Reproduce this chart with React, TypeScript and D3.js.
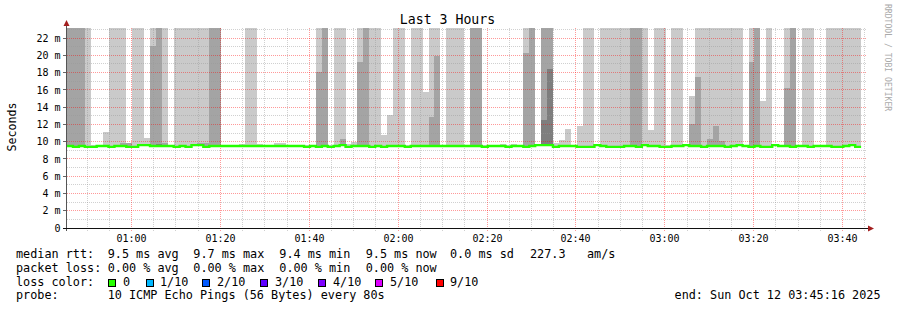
import React, { useEffect } from 'react';
import * as d3 from 'd3';

// ---------- data ----------
const TITLE = 'Last 3 Hours';
const Y_LABEL = 'Seconds';
const WATERMARK = 'RRDTOOL / TOBI OETIKER';
const START = new Date(2025, 9, 12, 0, 45, 16);
const END = new Date(2025, 9, 12, 3, 45, 16);
const DATA_START = new Date(2025, 9, 12, 0, 45, 30);
const STEP_SECONDS = 80;
const Y_MAX = 23.16; // ms shown at top of plot
const F = 30; // rtt above the visible range (clipped like rrdtool)
const _ = null;

// median rtt (ms) per 80 s step
const medianRtt: number[] = [
  9.5, 9.4, 9.5, 9.4, 9.4, 9.5, 9.5, 9.4, 9.5, 9.5,
  9.4, 9.4, 9.6, 9.6, 9.5, 9.5, 9.5, 9.5, 9.4, 9.5,
  9.4, 9.6, 9.6, 9.4, 9.5, 9.5, 9.5, 9.5, 9.5, 9.5,
  9.5, 9.5, 9.5, 9.5, 9.5, 9.5, 9.5, 9.5, 9.5, 9.5,
  9.4, 9.5, 9.4, 9.5, 9.4, 9.5, 9.6, 9.4, 9.5, 9.5,
  9.5, 9.4, 9.5, 9.4, 9.5, 9.5, 9.5, 9.4, 9.5, 9.5,
  9.5, 9.5, 9.5, 9.5, 9.5, 9.5, 9.5, 9.5, 9.5, 9.5,
  9.4, 9.5, 9.5, 9.5, 9.4, 9.5, 9.5, 9.4, 9.5, 9.6,
  9.6, 9.6, 9.4, 9.5, 9.5, 9.5, 9.4, 9.4, 9.4, 9.6,
  9.5, 9.4, 9.4, 9.4, 9.5, 9.5, 9.4, 9.6, 9.5, 9.5,
  9.4, 9.4, 9.5, 9.5, 9.6, 9.5, 9.5, 9.4, 9.5, 9.5,
  9.5, 9.4, 9.5, 9.6, 9.5, 9.4, 9.5, 9.4, 9.4, 9.6,
  9.5, 9.5, 9.4, 9.5, 9.5, 9.4, 9.5, 9.5, 9.5, 9.4,
  9.4, 9.5, 9.6, 9.4,
];

// highest ping of the 10 (outer, lightest smoke)
const ping10: number[] = [
  F, F, F, F, 9.6, 9.6, 11.1, F, F, F,
  9.7, F, F, 10.4, F, F, F, 9.6, F, F,
  F, F, F, F, F, F, 9.6, 9.6, 9.6, 9.7,
  F, F, 9.7, 9.6, 9.6, 9.8, 9.8, 9.6, 9.6, 9.6,
  9.6, 9.6, F, F, 9.6, F, F, 9.7, 10.0, F,
  F, F, F, 10.8, 13.1, F, F, 9.6, F, F,
  15.8, F, F, 9.6, F, F, F, 9.6, F, F,
  9.6, 9.6, 9.6, 9.7, 9.6, 9.7, 9.6, F, F, 9.6,
  F, F, 9.9, 10.2, 11.5, 9.6, 11.8, F, F, 9.6,
  F, F, F, F, F, F, F, F, 11.3, F,
  F, 9.6, F, F, 9.6, 15.3, F, F, F, F,
  F, F, F, F, 9.6, F, F, 14.7, F, 9.6,
  9.6, F, F, 9.6, F, F, 9.6, 9.6, F, F,
  F, F, F, F,
];

// second highest ping (middle smoke)
const ping9: (number | null)[] = [
  F, F, F, _, _, _, _, _, _, 9.8,
  9.8, _, _, _, 21.1, F, 9.8, _, _, _,
  _, _, 9.8, 9.8, F, F, _, _, _, _,
  _, _, _, _, _, _, _, _, _, _,
  _, _, 18.1, F, _, _, 10.3, _, _, 19.25,
  F, _, _, _, _, _, _, _, _, _,
  _, 12.9, 19.9, _, _, _, _, _, F, F,
  _, _, _, _, _, _, _, 20.3, F, _,
  F, F, _, _, _, _, _, _, _, _,
  _, _, _, _, _, F, F, _, _, _,
  _, _, _, _, _, 12.0, 17.5, _, 10.3, 11.8,
  10.1, _, _, _, _, 19.2, F, _, _, _,
  _, 16.2, F, _, _, _, _, _, _, _,
  _, _, _, _,
];

// third highest ping (dark smoke)
const ping8: (number | null)[] = medianRtt.map(() => null);
ping8[15] = 9.75;
ping8[80] = 12.5;
ping8[81] = 18.4;

const yMajorTicks = [0, 2, 4, 6, 8, 10, 12, 14, 16, 18, 20, 22];
const yMinorTicks = [1, 3, 5, 7, 9, 11, 13, 15, 17, 19, 21, 23];

const rttStats = [9.5, 9.7, 9.4, 9.5];
const lossStats = [0, 0, 0, 0];
const statNames = ['avg', 'max', 'min', 'now'];
const rttSd = 0.0;
const amPerS = 227.3;
const lossColorLabels = ['0', '1/10', '2/10', '3/10', '4/10', '5/10', '9/10'];
const lossColors = ['#26ff00', '#00b8ff', '#0059ff', '#5e00ff', '#7e00ff', '#dd00ff', '#ff0000'];
const probeText = '10 ICMP Echo Pings (56 Bytes) every 80s';
const endText = 'end: Sun Oct 12 03:45:16 2025';

// ---------- layout ----------
const W = 897;
const H = 310;
const PLOT_L = 66;
const PLOT_R = 866;
const PLOT_T = 28;
const PLOT_B = 228;
const MONO = '"DejaVu Sans Mono", "Liberation Mono", monospace';
const SMOKE = ['#cacaca', '#a4a4a4', '#7e7e7e'];
const MEDIAN_COLOR = '#26ff00';

export default function App() {
  useEffect(() => {
    document.body.style.margin = '0';
  }, []);

  const x = d3.scaleTime().domain([START, END]).range([PLOT_L, PLOT_R]);
  const y = d3.scaleLinear().domain([0, Y_MAX]).range([PLOT_B, PLOT_T]);
  const stepTime = (i: number) => d3.timeSecond.offset(DATA_START, i * STEP_SECONDS);
  const crisp = (v: number) => Math.floor(v) + 0.5;

  const majorX = x.ticks(d3.timeMinute.every(20) as any);
  const minorX = x.ticks(d3.timeMinute.every(5) as any).filter((t) => t.getMinutes() % 20 !== 0);
  const fmt = d3.timeFormat('%H:%M');

  const bands = [ping10, ping9, ping8];
  const smokeRects: JSX.Element[] = [];
  bands.forEach((band, b) => {
    band.forEach((top, i) => {
      if (top == null) return;
      const m = medianRtt[i];
      if (top <= m) return;
      const x0 = x(stepTime(i));
      const x1 = x(stepTime(i + 1));
      const y0 = y(top);
      const y1 = y(m);
      smokeRects.push(
        <rect key={`s${b}-${i}`} x={x0} y={y0} width={x1 - x0} height={y1 - y0} fill={SMOKE[b]} />
      );
    });
  });

  const medPts: [Date, number][] = medianRtt.map((v, i) => [stepTime(i), v]);
  medPts.push([stepTime(medianRtt.length), medianRtt[medianRtt.length - 1]]);
  const medLine = d3
    .line<[Date, number]>()
    .x((d) => x(d[0]))
    .y((d) => y(d[1]))
    .curve(d3.curveStepAfter)(medPts);

  const colX = [107.7, 193.3, 279.3, 365.7];
  const boxX = [108.5, 146, 202.5, 260.5, 318.5, 375.5, 436];
  const boxLabelX = [123, 160, 217, 275, 333, 390, 450];
  const legendFont = 11.8;
  const rows = [258, 271.7, 285.5, 299.2];

  return (
    <svg
      width={W}
      height={H}
      style={{ position: 'absolute', left: 0, top: 0, display: 'block', background: '#fff' }}
      fontFamily={MONO}
    >
      <rect x={0} y={0} width={W} height={H} fill="#fff" />
      <defs>
        <clipPath id="plotclip">
          <rect x={PLOT_L} y={PLOT_T} width={PLOT_R - PLOT_L} height={PLOT_B - PLOT_T + 0.5} />
        </clipPath>
      </defs>

      {/* smoke */}
      <g clipPath="url(#plotclip)" shapeRendering="crispEdges">{smokeRects}</g>

      {/* grid */}
      <g shapeRendering="crispEdges" strokeDasharray="1,1">
        {yMinorTicks.map((v) => (
          <line key={`hy${v}`} x1={PLOT_L + 1} x2={PLOT_R} y1={crisp(y(v))} y2={crisp(y(v))} stroke="rgba(150,150,150,0.45)" />
        ))}
        {minorX.map((t) => (
          <line key={`vx${+t}`} x1={crisp(x(t))} x2={crisp(x(t))} y1={PLOT_T} y2={PLOT_B + 3} stroke="rgba(150,150,150,0.45)" />
        ))}
        {yMajorTicks.filter((v) => v > 0).map((v) => (
          <line key={`Hy${v}`} x1={PLOT_L + 1} x2={PLOT_R} y1={crisp(y(v))} y2={crisp(y(v))} stroke="rgba(255,0,0,0.4)" />
        ))}
        {majorX.map((t) => (
          <line key={`Vx${+t}`} x1={crisp(x(t))} x2={crisp(x(t))} y1={PLOT_T} y2={PLOT_B + 3} stroke="rgba(255,0,0,0.4)" />
        ))}
      </g>

      {/* median line */}
      <path d={medLine || ''} fill="none" stroke={MEDIAN_COLOR} strokeWidth={2.4} />

      {/* axes */}
      <g shapeRendering="crispEdges">
        {yMajorTicks.map((v) => (
          <line key={`ty${v}`} x1={PLOT_L - 3} x2={PLOT_L} y1={crisp(y(v))} y2={crisp(y(v))} stroke="#666" />
        ))}
        <line x1={PLOT_L + 0.5} x2={PLOT_L + 0.5} y1={PLOT_B + 3} y2={PLOT_T - 2} stroke="#555" />
        <line x1={PLOT_L - 3} x2={PLOT_R + 2} y1={PLOT_B + 0.5} y2={PLOT_B + 0.5} stroke="#111" />
      </g>
      <polygon points={`${PLOT_L - 2.5},${PLOT_T - 2} ${PLOT_L + 3.5},${PLOT_T - 2} ${PLOT_L + 0.5},${PLOT_T - 8}`} fill="#a31f1f" />
      <polygon points={`${PLOT_R + 2},${PLOT_B - 2.5} ${PLOT_R + 2},${PLOT_B + 3.5} ${PLOT_R + 8},${PLOT_B + 0.5}`} fill="#a31f1f" />

      {/* tick labels */}
      <g fontSize={10} fill="#000">
        {yMajorTicks.map((v) => (
          <text key={`ly${v}`} x={60.5} y={y(v) + 3.7} textAnchor="end" xmlSpace="preserve">
            {v === 0 ? '0' : `${v} m`}
          </text>
        ))}
        {majorX.map((t) => (
          <text key={`lx${+t}`} x={crisp(x(t))} y={241.5} textAnchor="middle">
            {fmt(t)}
          </text>
        ))}
      </g>

      {/* title & labels */}
      <text x={447.5} y={23.5} fontSize={13.2} textAnchor="middle" fill="#000">
        {TITLE}
      </text>
      <text transform="translate(16,127) rotate(-90)" fontSize={11.6} textAnchor="middle" fill="#000">
        {Y_LABEL}
      </text>
      <text transform="translate(885,4) rotate(90)" fontSize={8.1} fill="#aaa">
        {WATERMARK}
      </text>

      {/* legend */}
      <g fontSize={legendFont} fill="#000" xmlSpace="preserve">
        <text x={16} y={rows[0]}>median rtt:</text>
        {rttStats.map((v, i) => (
          <text key={`r${i}`} x={colX[i]} y={rows[0]}>{`${v.toFixed(1)} ms ${statNames[i]}`}</text>
        ))}
        <text x={450} y={rows[0]}>{`${rttSd.toFixed(1)} ms sd`}</text>
        <text x={530} y={rows[0]}>{amPerS.toFixed(1)}</text>
        <text x={587} y={rows[0]}>am/s</text>

        <text x={16} y={rows[1]}>packet loss:</text>
        {lossStats.map((v, i) => (
          <text key={`p${i}`} x={colX[i]} y={rows[1]}>{`${v.toFixed(2)} % ${statNames[i]}`}</text>
        ))}

        <text x={16} y={rows[2]}>loss color:</text>
        {lossColorLabels.map((lab, i) => (
          <g key={`lc${i}`}>
            <rect x={boxX[i]} y={279.5} width={7} height={7} fill={lossColors[i]} stroke="#000" strokeWidth={1} shapeRendering="crispEdges" />
            <text x={boxLabelX[i]} y={rows[2]}>{lab}</text>
          </g>
        ))}

        <text x={16} y={rows[3]}>probe:</text>
        <text x={colX[0]} y={rows[3]}>{probeText}</text>
        <text x={880.5} y={rows[3]} textAnchor="end">{endText}</text>
      </g>
    </svg>
  );
}
